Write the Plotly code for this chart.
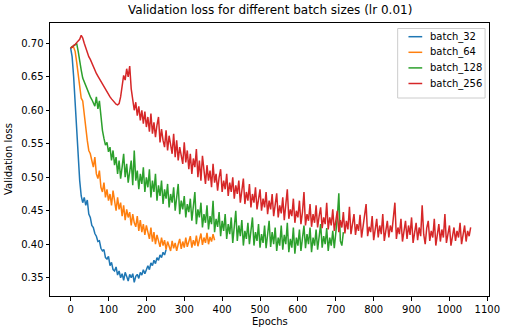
import plotly.graph_objects as go

# ---------------- data ----------------
series_names = ["batch_32", "batch_64", "batch_128", "batch_256"]
series_steps = [4, 4, 4, 4]   # epoch spacing of the sampled values

batch_32 = [
    0.693, 0.680, 0.650, 0.610, 0.565, 0.525, 0.495,
    0.472, 0.462, 0.470, 0.458, 0.466, 0.445, 0.440, 0.428, 0.425, 0.416,
    0.412, 0.404, 0.405, 0.394, 0.390, 0.392, 0.380, 0.378, 0.382, 0.368,
    0.373, 0.362, 0.360, 0.366, 0.354, 0.360, 0.350, 0.356, 0.346, 0.358,
    0.352, 0.345, 0.355, 0.350, 0.356, 0.343, 0.352, 0.355, 0.349, 0.358,
    0.354, 0.362, 0.356, 0.364, 0.368, 0.362, 0.372, 0.368, 0.376, 0.371,
    0.380, 0.376, 0.384, 0.380, 0.388, 0.384, 0.392,
]

batch_64 = [
    0.693, 0.695, 0.694, 0.688, 0.672, 0.655, 0.635, 0.618, 0.614, 0.592,
    0.570, 0.555, 0.540, 0.535, 0.525, 0.515, 0.530, 0.505, 0.498, 0.510,
    0.485, 0.478, 0.492, 0.470, 0.482, 0.465, 0.475, 0.458, 0.480, 0.462,
    0.450, 0.470, 0.452, 0.462, 0.442, 0.458, 0.436, 0.452, 0.440, 0.448,
    0.428, 0.445, 0.432, 0.426, 0.442, 0.420, 0.436, 0.418, 0.430, 0.414,
    0.428, 0.418, 0.408, 0.425, 0.404, 0.418, 0.400, 0.414, 0.403, 0.396,
    0.410, 0.398, 0.406, 0.392, 0.404, 0.396, 0.390, 0.405, 0.394, 0.402,
    0.390, 0.400, 0.408, 0.393, 0.404, 0.395, 0.410, 0.396, 0.403, 0.412,
    0.395, 0.406, 0.398, 0.413, 0.397, 0.408, 0.416, 0.399, 0.410, 0.402,
    0.417, 0.400, 0.411, 0.404, 0.415, 0.406,
]

batch_128 = [
    0.693, 0.694, 0.696, 0.698, 0.700, 0.688, 0.672, 0.660, 0.648, 0.642,
    0.635, 0.630, 0.624, 0.620, 0.616, 0.612, 0.606, 0.620, 0.602, 0.614,
    0.585, 0.570, 0.558, 0.548, 0.552, 0.538, 0.545, 0.525, 0.540, 0.518,
    0.530, 0.505, 0.525, 0.498, 0.515, 0.535, 0.500, 0.520, 0.492, 0.510,
    0.525, 0.488, 0.540, 0.495, 0.510, 0.482, 0.505, 0.490, 0.515, 0.478,
    0.500, 0.485, 0.512, 0.470, 0.495, 0.478, 0.505, 0.465, 0.488, 0.472,
    0.495, 0.460, 0.482, 0.468, 0.490, 0.455, 0.475, 0.462, 0.485, 0.450,
    0.470, 0.490, 0.445, 0.465, 0.452, 0.472, 0.440, 0.460, 0.448, 0.468,
    0.435, 0.458, 0.478, 0.430, 0.452, 0.440, 0.462, 0.425, 0.445, 0.432,
    0.458, 0.422, 0.442, 0.430, 0.465, 0.418, 0.438, 0.426, 0.448, 0.412,
    0.435, 0.420, 0.445, 0.408, 0.430, 0.415, 0.440, 0.402, 0.425, 0.450,
    0.405, 0.428, 0.412, 0.436, 0.398, 0.420, 0.408, 0.432, 0.400, 0.422,
    0.440, 0.398, 0.418, 0.405, 0.430, 0.395, 0.415, 0.402, 0.428, 0.394,
    0.412, 0.435, 0.396, 0.418, 0.400, 0.425, 0.390, 0.410, 0.398, 0.428,
    0.392, 0.414, 0.400, 0.432, 0.388, 0.408, 0.395, 0.425, 0.386, 0.410,
    0.398, 0.422, 0.390, 0.412, 0.428, 0.394, 0.415, 0.400, 0.425, 0.388,
    0.410, 0.398, 0.422, 0.392, 0.415, 0.430, 0.395, 0.412, 0.400, 0.424,
    0.390, 0.410, 0.398, 0.420, 0.394, 0.415, 0.440, 0.476, 0.405, 0.398,
    0.418,
]

batch_256 = [
    0.693, 0.694, 0.697, 0.698, 0.701, 0.703, 0.706, 0.712, 0.708, 0.700,
    0.692, 0.686, 0.680, 0.676, 0.670, 0.665, 0.660, 0.655, 0.651, 0.647,
    0.643, 0.638, 0.634, 0.630, 0.627, 0.623, 0.620, 0.617, 0.614, 0.611,
    0.609, 0.608, 0.610, 0.620, 0.638, 0.652, 0.645, 0.662, 0.650, 0.666,
    0.632, 0.615, 0.600, 0.612, 0.592, 0.606, 0.585, 0.600, 0.580, 0.598,
    0.575, 0.590, 0.568, 0.595, 0.565, 0.582, 0.560, 0.578, 0.590, 0.552,
    0.572, 0.555, 0.545, 0.570, 0.540, 0.562, 0.548, 0.535, 0.565, 0.530,
    0.555, 0.525, 0.545, 0.532, 0.520, 0.552, 0.522, 0.540, 0.512, 0.535,
    0.505, 0.528, 0.515, 0.542, 0.500, 0.525, 0.495, 0.532, 0.505, 0.490,
    0.518, 0.495, 0.510, 0.485, 0.520, 0.492, 0.505, 0.480, 0.500, 0.512,
    0.478, 0.495, 0.482, 0.505, 0.472, 0.492, 0.478, 0.500, 0.468, 0.488,
    0.475, 0.495, 0.462, 0.485, 0.498, 0.460, 0.478, 0.465, 0.490, 0.455,
    0.475, 0.462, 0.485, 0.452, 0.470, 0.482, 0.450, 0.468, 0.455, 0.478,
    0.445, 0.465, 0.452, 0.475, 0.442, 0.462, 0.476, 0.440, 0.458, 0.446,
    0.470, 0.436, 0.455, 0.482, 0.438, 0.452, 0.442, 0.468, 0.432, 0.450,
    0.440, 0.465, 0.430, 0.448, 0.478, 0.428, 0.445, 0.435, 0.460, 0.426,
    0.445, 0.432, 0.458, 0.425, 0.442, 0.455, 0.424, 0.440, 0.430, 0.462,
    0.422, 0.440, 0.428, 0.452, 0.420, 0.438, 0.450, 0.418, 0.436, 0.425,
    0.448, 0.416, 0.435, 0.422, 0.456, 0.415, 0.432, 0.445, 0.414, 0.430,
    0.420, 0.444, 0.410, 0.428, 0.440, 0.460, 0.412, 0.426, 0.418, 0.442,
    0.406, 0.425, 0.438, 0.410, 0.428, 0.415, 0.445, 0.405, 0.422, 0.435,
    0.410, 0.428, 0.418, 0.440, 0.462, 0.408, 0.425, 0.415, 0.438, 0.404,
    0.420, 0.435, 0.408, 0.428, 0.414, 0.440, 0.402, 0.420, 0.432, 0.406,
    0.425, 0.412, 0.458, 0.415, 0.400, 0.424, 0.435, 0.405, 0.420, 0.410,
    0.438, 0.398, 0.418, 0.430, 0.404, 0.422, 0.410, 0.445, 0.402, 0.418,
    0.428, 0.398, 0.415, 0.425, 0.405, 0.420, 0.410, 0.432, 0.400, 0.418,
    0.428, 0.404, 0.420, 0.412, 0.425,
]

x_tick_vals = [0, 100, 200, 300, 400, 500, 600, 700, 800, 900, 1000, 1100]
y_tick_vals = [0.35, 0.40, 0.45, 0.50, 0.55, 0.60, 0.65, 0.70]
y_tick_text = ["0.35", "0.40", "0.45", "0.50", "0.55", "0.60", "0.65", "0.70"]

title_text = "Validation loss for different batch sizes (lr 0.01)"
x_title = "Epochs"
y_title = "Validation loss"

colors = ["#1f77b4", "#ff7f0e", "#2ca02c", "#d62728"]

# ---------------- figure ----------------
W, H = 512, 333
ML, MR, MT, MB = 50, 15, 23, 37
PW, PH = W - ML - MR, H - MT - MB


def px(xp):
    return (xp - ML) / PW


def py(yp):
    return 1 - (yp - MT) / PH


all_values = [batch_32, batch_64, batch_128, batch_256]
fig = go.Figure()
for name, step, vals, col in zip(series_names, series_steps, all_values, colors):
    epochs = [i * step for i in range(len(vals))]
    fig.add_trace(go.Scatter(x=epochs, y=vals, mode="lines", name=name,
                             line=dict(color=col, width=1.5), showlegend=False))

FONT = "DejaVu Sans"
axis_common = dict(showline=True, mirror=True, linecolor="black", linewidth=1,
                   ticks="outside", ticklen=3.5, tickwidth=1, tickcolor="black",
                   showgrid=False, zeroline=False,
                   tickfont=dict(family=FONT, size=10, color="black"))

fig.update_layout(
    width=W, height=H,
    margin=dict(l=ML, r=MR, t=MT, b=MB),
    paper_bgcolor="white", plot_bgcolor="white",
    font=dict(family=FONT, size=10, color="black"),
    xaxis=dict(range=[-54.4, 1104.4], tickmode="array", tickvals=x_tick_vals,
               **axis_common),
    yaxis=dict(range=[0.3227, 0.7303], tickmode="array", tickvals=y_tick_vals,
               ticktext=y_tick_text, **axis_common),
    showlegend=False,
)

# legend box (matplotlib style)
fig.add_shape(type="rect", xref="paper", yref="paper",
              x0=px(404), x1=px(493), y0=py(98), y1=py(28.5),
              line=dict(color="#cccccc", width=1),
              fillcolor="rgba(255,255,255,0.8)")
for i, (name, col) in enumerate(zip(series_names, colors)):
    yc = 36.7 + i * 15.6
    fig.add_shape(type="line", xref="paper", yref="paper",
                  x0=px(415), x1=px(429), y0=py(yc), y1=py(yc),
                  line=dict(color=col, width=1.5))
    fig.add_annotation(text=name, xref="paper", yref="paper", x=px(435),
                       y=py(yc), xanchor="left", yanchor="middle",
                       showarrow=False,
                       font=dict(family=FONT, size=10, color="black"))

fig.add_annotation(text=title_text, xref="paper", yref="paper", x=0.5, y=1,
                   yshift=4, xanchor="center", yanchor="bottom", showarrow=False,
                   font=dict(family=FONT, size=12, color="black"))
fig.add_annotation(text=x_title, xref="paper", yref="paper", x=0.5, y=0,
                   yshift=-18, xanchor="center", yanchor="top", showarrow=False,
                   font=dict(family=FONT, size=10, color="black"))
fig.add_annotation(text=y_title, xref="paper", yref="paper", x=0, y=0.5,
                   xshift=-34, xanchor="right", yanchor="middle", textangle=-90,
                   showarrow=False, font=dict(family=FONT, size=10, color="black"))

fig.write_html("out.html")
